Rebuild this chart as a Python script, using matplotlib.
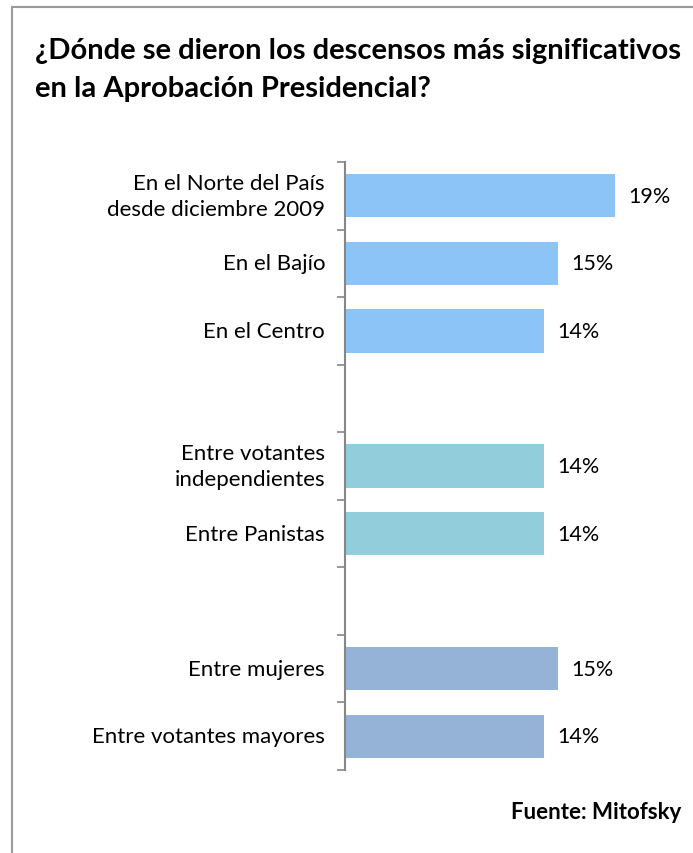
import matplotlib
matplotlib.use('Agg')
import matplotlib.pyplot as plt
from matplotlib.patches import Rectangle

plt.rcParams['font.family'] = ['Lato', 'DejaVu Sans']

# data
labels = ['En el Norte del País\ndesde diciembre 2009', 'En el Bajío', 'En el Centro',
          'Entre votantes\nindependientes', 'Entre Panistas',
          'Entre mujeres', 'Entre votantes mayores']
values = [19, 15, 14, 14, 14, 15, 14]
slots = [0, 1, 2, 4, 5, 7, 8]
colors = ['#8DC4F8', '#8DC4F8', '#8DC4F8', '#92CDDC', '#92CDDC', '#95B3D7', '#95B3D7']

W, H = 693, 854
fig = plt.figure(figsize=(W / 100, H / 100), dpi=100)

# frame of the slide (cut off at right and bottom)
fig.add_artist(Rectangle((12 / W, -0.1), 1.2, 1 - 8 / H + 0.1, transform=fig.transFigure,
                         fill=False, edgecolor='#9a9a9a', linewidth=1.5))

fig.text(35 / W, 1 - 70 / H, '¿Dónde se dieron los descensos más significativos\nen la Aprobación Presidencial?',
         fontsize=21, fontweight='bold', va='center', ha='left', linespacing=1.6, color='#000000')

ax = fig.add_axes([345 / W, 1 - 771 / H, 341 / W, 608 / H])
ax.barh(slots, values, height=0.64, color=colors)
ax.set_xlim(0, 24)
ax.set_ylim(8.5, -0.5)

for s, v in zip(slots, values):
    ax.text(v + 0.95, s, f'{v}%', va='center', ha='left', fontsize=15.5)
for s, lab in zip(slots, labels):
    ax.text(-1.4, s, lab, va='center', ha='right', fontsize=16, linespacing=1.4)

for sp in ['top', 'right', 'bottom']:
    ax.spines[sp].set_visible(False)
ax.spines['left'].set_color('#868686')
ax.spines['left'].set_linewidth(1.5)
ax.set_xticks([])
ax.set_yticks([i - 0.5 for i in range(10)])
ax.set_yticklabels([])
ax.tick_params(axis='y', length=6, width=1.2, color='#868686')

fig.text(681 / W, 1 - 813 / H, 'Fuente: Mitofsky', fontsize=16, fontweight='bold',
         ha='right', va='center')

fig.savefig('out.png', dpi=100)
